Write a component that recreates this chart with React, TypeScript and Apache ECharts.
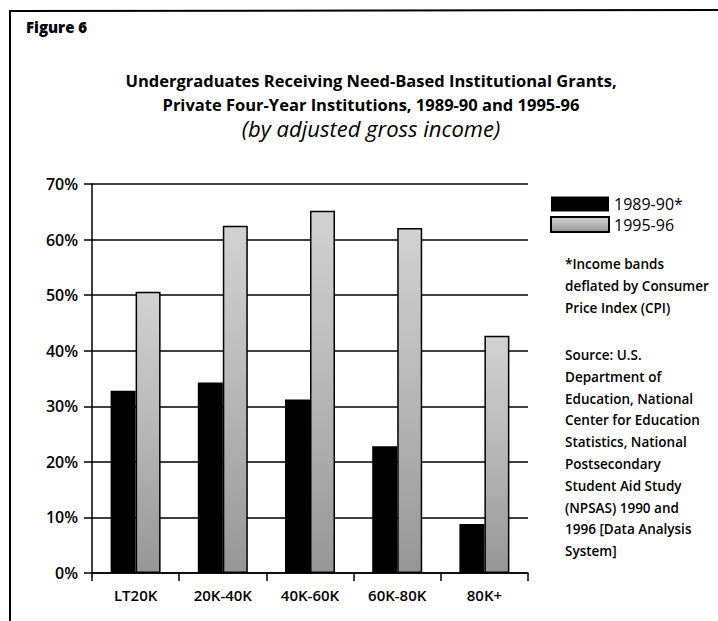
import React, { useEffect, useRef } from "react";
import * as echarts from "echarts";

const categories = ["LT20K", "20K-40K", "40K-60K", "60K-80K", "80K+"];
const series1989 = [32.8, 34.3, 31.2, 22.8, 8.8];
const series1995 = [50.6, 62.5, 65.2, 62.1, 42.7];
const seriesNames = ["1989-90*", "1995-96"];
const titleLines = [
  "Undergraduates Receiving Need-Based Institutional Grants,",
  "Private Four-Year Institutions, 1989-90 and 1995-96",
  "(by adjusted gross income)",
];
const footnote = ["*Income bands", "deflated by Consumer", "Price Index (CPI)"];
const sourceNote = [
  "Source: U.S.",
  "Department of",
  "Education, National",
  "Center for Education",
  "Statistics, National",
  "Postsecondary",
  "Student Aid Study",
  "(NPSAS) 1990 and",
  "1996 [Data Analysis",
  "System]",
];

const FONT = "'Open Sans', 'Noto Sans', sans-serif";

export default function App() {
  const ref = useRef<HTMLDivElement>(null);
  useEffect(() => {
    if (!ref.current) return;
    const chart = echarts.init(ref.current, null, { renderer: "svg" });
    const grayFill = new echarts.graphic.LinearGradient(0, 0, 0, 1, [
      { offset: 0, color: "#d2d2d2" },
      { offset: 0.6, color: "#b0b0b0" },
      { offset: 1, color: "#969696" },
    ]);
    chart.setOption({
      animation: false,
      backgroundColor: "#ffffff",
      textStyle: { fontFamily: FONT, color: "#000" },
      grid: { left: 92, right: 190, top: 184, bottom: 48, containLabel: false },
      legend: {
        orient: "vertical",
        left: 550,
        top: 196,
        padding: 0,
        itemGap: 4,
        itemWidth: 58,
        itemHeight: 15,
        icon: "rect",
        data: seriesNames,
        textStyle: { fontSize: 16, lineHeight: 16, color: "#000", fontFamily: FONT },
      },
      xAxis: {
        type: "category",
        data: categories,
        axisLine: { show: true, lineStyle: { color: "#000", width: 1.5 } },
        axisTick: { show: true, length: 8, alignWithLabel: false, lineStyle: { color: "#000", width: 1.5 } },
        axisLabel: { fontSize: 15, color: "#000", margin: 14, fontWeight: 600, fontFamily: FONT },
        splitLine: { show: false },
      },
      yAxis: {
        type: "value",
        min: 0,
        max: 70,
        interval: 10,
        axisLine: { show: true, lineStyle: { color: "#000", width: 1.5 } },
        axisTick: { show: true, length: 8, lineStyle: { color: "#000", width: 1.5 } },
        axisLabel: { formatter: "{value}%", fontSize: 16, color: "#000", margin: 14, fontWeight: 600, fontFamily: FONT },
        splitLine: { show: true, lineStyle: { color: "#000", width: 1.5 } },
      },
      series: [
        {
          name: seriesNames[0],
          type: "bar",
          data: series1989,
          barWidth: 25,
          barGap: "0%",
          itemStyle: { color: "#000" },
        },
        {
          name: seriesNames[1],
          type: "bar",
          data: series1995,
          barWidth: 25,
          itemStyle: { color: grayFill, borderColor: "#000", borderWidth: 1.5 },
        },
      ],
      graphic: [
        { type: "line", shape: { x1: 10, y1: 11, x2: 718, y2: 10 }, style: { stroke: "#000", lineWidth: 2 } },
        { type: "line", shape: { x1: 10, y1: 10, x2: 10, y2: 621 }, style: { stroke: "#000", lineWidth: 2 } },
        {
          type: "text",
          left: 26,
          top: 19,
          style: { text: "Figure 6", font: `800 15px ${FONT}`, fill: "#000" },
        },
        {
          type: "text",
          x: 371,
          y: 80,
          style: { text: titleLines[0], font: `700 16.5px ${FONT}`, fill: "#000", textAlign: "center", textVerticalAlign: "middle" },
        },
        {
          type: "text",
          x: 371,
          y: 104,
          style: { text: titleLines[1], font: `700 16.5px ${FONT}`, fill: "#000", textAlign: "center", textVerticalAlign: "middle" },
        },
        {
          type: "text",
          x: 371,
          y: 128,
          style: { text: titleLines[2], font: `italic 400 22px ${FONT}`, fill: "#000", textAlign: "center", textVerticalAlign: "middle" },
        },
        {
          type: "text",
          x: 565,
          y: 253,
          style: { text: footnote.join("\n"), font: `600 13.5px ${FONT}`, lineHeight: 22, fill: "#000" },
        },
        {
          type: "text",
          x: 565,
          y: 344,
          style: { text: sourceNote.join("\n"), font: `600 13.5px ${FONT}`, lineHeight: 21.8, fill: "#000" },
        },
      ],
    });
    return () => chart.dispose();
  }, []);
  return (
    <div
      ref={ref}
      style={{ position: "fixed", left: 0, top: 0, width: 718, height: 621, background: "#fff" }}
    />
  );
}
